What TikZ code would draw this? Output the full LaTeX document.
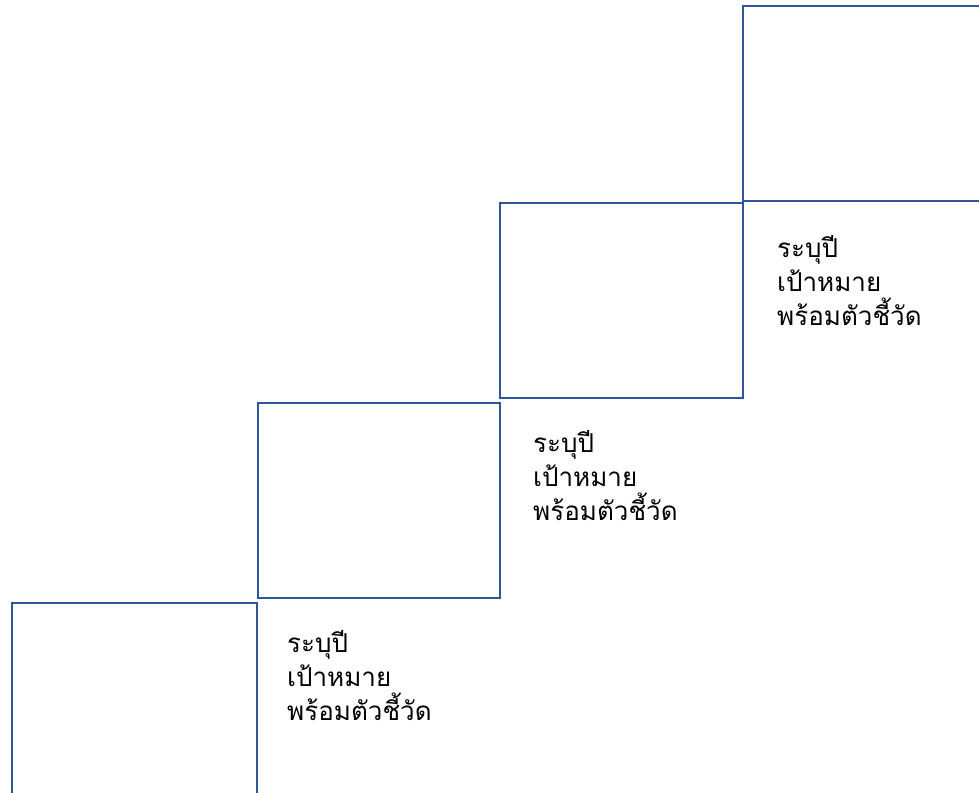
\documentclass[tikz,border=0pt]{standalone}
\usepackage{fontspec}
\newfontfamily\thaifont[Script=Thai]{Loma}
\definecolor{boxblue}{HTML}{2F5597}
\begin{document}
\begin{tikzpicture}[x=1pt,y=-1pt,
  stepbox/.style={draw=boxblue,line width=2.4pt},
  lbl/.style={anchor=base west,align=left,inner sep=0pt,font=\thaifont\fontsize{26}{34}\selectfont}]
\useasboundingbox (0,0) rectangle (979,792);
\draw[stepbox] (12,603) rectangle (257,820);
\draw[stepbox] (258,403) rectangle (500,598);
\draw[stepbox] (500,203) rectangle (743,398);
\draw[stepbox] (743,6) rectangle (1000,201);
\node[lbl] (t1) at (287,720) {ระบุปี\\เป้าหมาย\\พร้อมตัวชี้วัด};
\node[lbl] (t2) at (533,520) {ระบุปี\\เป้าหมาย\\พร้อมตัวชี้วัด};
\node[lbl] (t3) at (777,325) {ระบุปี\\เป้าหมาย\\พร้อมตัวชี้วัด};
\end{tikzpicture}
\end{document}
